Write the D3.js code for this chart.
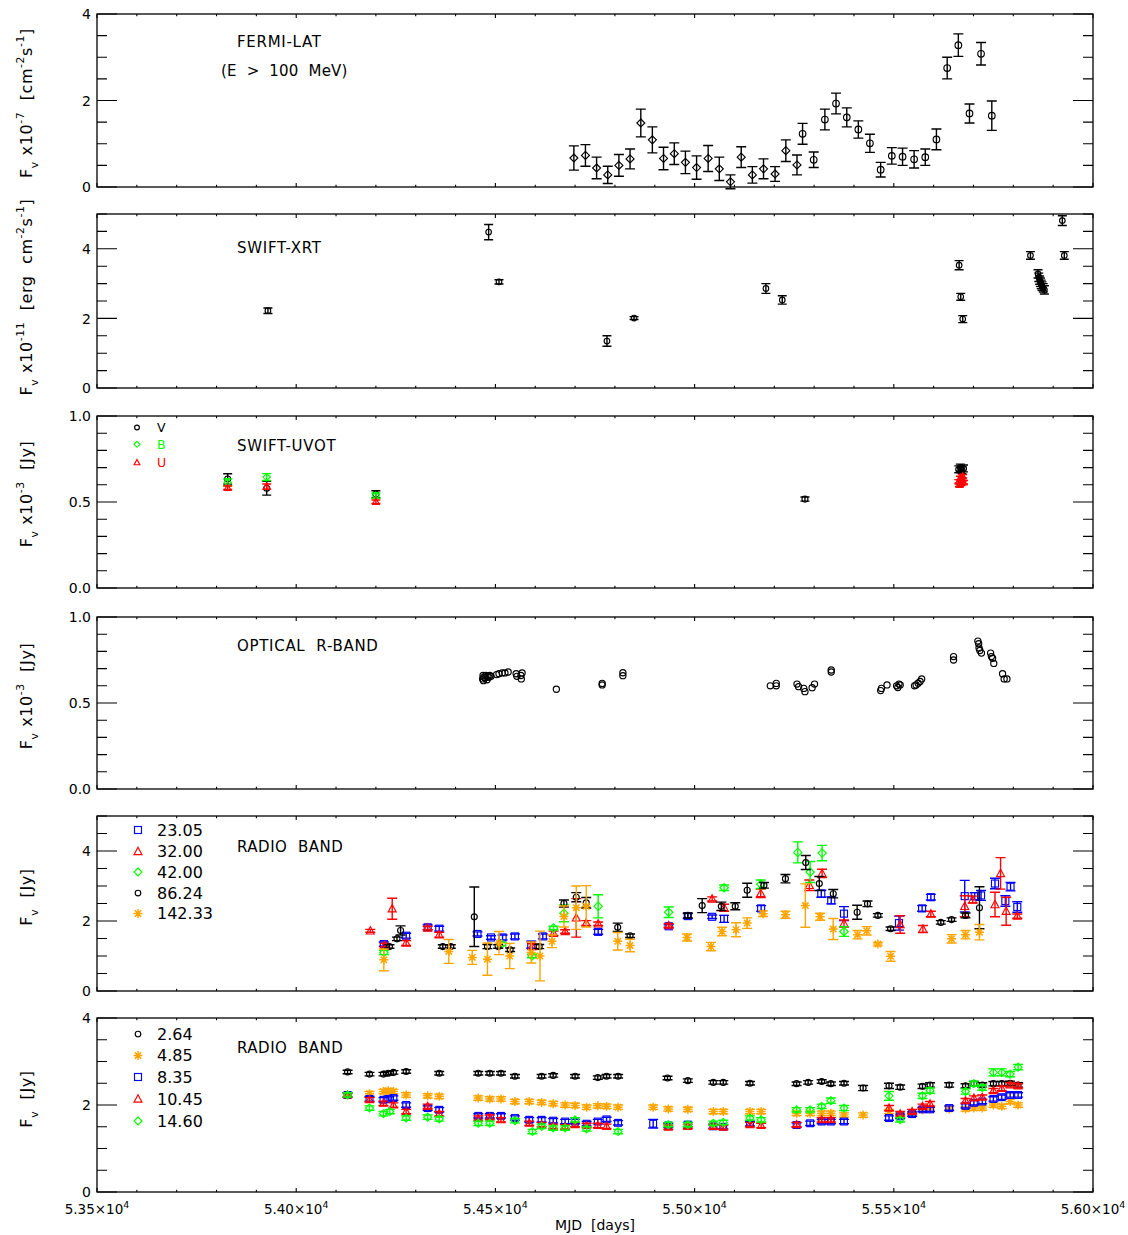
<!DOCTYPE html>
<html><head><meta charset="utf-8">
<script src="https://cdn.jsdelivr.net/npm/d3@7"></script>
<style>body{margin:0;background:#fff}svg{display:block}text{font-family:"DejaVu Sans",sans-serif}</style>
</head><body><svg id="c" width="1128" height="1235"></svg>
<script>
// ---------------- DATA ----------------  [MJD, value, error]
const fermiDiamonds = [[54697,0.67,0.28],[54726,0.73,0.25],[54754,0.44,0.25],[54782,0.28,0.20],[54810,0.50,0.25],[54838,0.65,0.23],[54865,1.48,0.32],[54894,1.09,0.30],[54922,0.66,0.26],[54949,0.77,0.25],[54977,0.57,0.26],[55005,0.45,0.27],[55034,0.66,0.30],[55062,0.42,0.27],[55090,0.12,0.16],[55117,0.69,0.24],[55145,0.28,0.19],[55173,0.42,0.23],[55202,0.30,0.17],[55229,0.84,0.25],[55257,0.51,0.23]];
const fermiCircles = [[55271,1.23,0.24],[55299,0.63,0.18],[55327,1.56,0.24],[55355,1.93,0.24],[55382,1.61,0.22],[55411,1.33,0.20],[55440,1.01,0.21],[55467,0.40,0.17],[55495,0.72,0.19],[55522,0.70,0.20],[55551,0.64,0.20],[55579,0.69,0.19],[55607,1.10,0.24],[55634,2.75,0.25],[55662,3.28,0.26],[55690,1.70,0.22],[55719,3.08,0.26],[55746,1.65,0.34]];
const xrt = [[53929,2.22,0.08],[54483,4.48,0.22],[54509,3.05,0.06],[54780,1.35,0.15],[54848,2.01,0.04],[55179,2.86,0.14],[55220,2.53,0.12],[55664,3.53,0.13],[55668,2.62,0.10],[55673,1.98,0.10],[55843,3.81,0.11],[55862,3.28,0.12],[55864,3.18,0.12],[55866,3.10,0.12],[55868,3.04,0.12],[55870,2.98,0.12],[55872,2.93,0.12],[55875,2.88,0.12],[55878,2.82,0.12],[55923,4.81,0.14],[55928,3.81,0.11]];
const uvotV = [[53828,0.634,0.03],[53926,0.58,0.04],[54200,0.545,0.02],[55277,0.517,0.012],[55663,0.69,0.02],[55667,0.70,0.02],[55671,0.685,0.02],[55675,0.695,0.02]];
const uvotB = [[53828,0.614,0.02],[53926,0.645,0.02],[54200,0.537,0.015]];
const uvotU = [[53828,0.583,0.01],[53926,0.59,0.015],[54200,0.502,0.01],[55663,0.62,0.01],[55665,0.60,0.01],[55667,0.64,0.01],[55669,0.61,0.01],[55671,0.63,0.01],[55673,0.65,0.01],[55675,0.615,0.01]];
const rband = [[54468,0.64],[54469,0.66],[54470,0.63],[54471,0.65],[54474,0.645],[54476,0.66],[54479,0.635],[54481,0.655],[54484,0.65],[54486,0.66],[54489,0.655],[54503,0.665],[54509,0.67],[54517,0.675],[54524,0.675],[54532,0.68],[54552,0.67],[54554,0.655],[54564,0.66],[54565,0.64],[54567,0.675],[54653,0.58],[54768,0.614],[54768,0.605],[54820,0.676],[54820,0.659],[55190,0.60],[55205,0.614],[55205,0.60],[55257,0.61],[55261,0.595],[55274,0.585],[55277,0.566],[55295,0.589],[55301,0.61],[55343,0.692],[55343,0.68],[55467,0.572],[55469,0.585],[55483,0.605],[55507,0.60],[55510,0.59],[55513,0.61],[55516,0.605],[55552,0.60],[55556,0.605],[55561,0.615],[55566,0.625],[55570,0.64],[55650,0.75],[55650,0.77],[55711,0.86],[55713,0.845],[55714,0.82],[55716,0.805],[55720,0.79],[55743,0.79],[55745,0.77],[55748,0.76],[55751,0.73],[55773,0.67],[55777,0.64],[55784,0.64]];
// radio, upper panel (GHz)
const radio2305 = [[54220,1.34,0.06],[54276,1.58,0.07],[54330,1.82,0.07],[54359,1.78,0.07],[54455,1.63,0.06],[54489,1.53,0.05],[54518,1.53,0.07],[54549,1.56,0.07],[54590,1.32,0.10],[54619,1.56,0.07],[54758,1.69,0.07],[54935,1.85,0.05],[54983,2.14,0.07],[55044,2.12,0.05],[55074,2.06,0.10],[55167,2.36,0.08],[55318,2.78,0.10],[55343,2.59,0.10],[55375,2.21,0.20],[55513,1.94,0.20],[55571,2.36,0.08],[55593,2.68,0.08],[55678,2.71,0.45],[55703,2.71,0.10],[55719,2.73,0.14],[55754,3.07,0.15],[55780,2.57,0.15],[55793,2.98,0.12],[55810,2.40,0.15]];
const radio3200 = [[54186,1.72,0.04],[54222,1.31,0.05],[54241,2.35,0.30],[54276,1.37,0.07],[54330,1.80,0.05],[54359,1.61,0.07],[54592,1.27,0.08],[54646,1.65,0.06],[54675,1.70,0.05],[54703,2.09,0.55],[54728,1.94,0.07],[54758,1.92,0.05],[54935,1.87,0.05],[55044,2.63,0.06],[55074,2.38,0.10],[55166,2.79,0.12],[55288,3.02,0.15],[55320,3.36,0.12],[55375,1.93,0.10],[55516,1.90,0.25],[55573,1.77,0.10],[55593,2.20,0.08],[55678,2.42,0.30],[55698,2.61,0.10],[55754,2.47,0.35],[55768,3.36,0.45],[55782,2.28,0.40],[55810,2.14,0.06]];
const radio4200 = [[54220,1.10,0.06],[54516,1.34,0.05],[54592,1.00,0.05],[54646,1.80,0.05],[54672,2.22,0.24],[54758,2.42,0.33],[54935,2.25,0.15],[55074,2.95,0.08],[55166,3.05,0.12],[55259,3.96,0.30],[55290,3.40,0.30],[55320,3.94,0.22],[55375,1.70,0.14]];
const radio8624 = [[54234,1.27,0.05],[54253,1.49,0.05],[54262,1.73,0.13],[54368,1.27,0.05],[54388,1.27,0.05],[54447,2.12,0.85],[54480,1.27,0.06],[54507,1.27,0.05],[54537,1.18,0.05],[54610,1.27,0.06],[54672,2.50,0.10],[54703,2.68,0.13],[54728,2.52,0.15],[54807,1.82,0.12],[54838,1.58,0.05],[54983,2.16,0.07],[55019,2.44,0.20],[55067,2.42,0.12],[55102,2.42,0.10],[55132,2.88,0.20],[55174,3.02,0.08],[55228,3.21,0.12],[55279,3.67,0.20],[55313,3.07,0.20],[55348,2.78,0.12],[55408,2.25,0.20],[55434,2.49,0.08],[55460,2.16,0.05],[55492,1.78,0.05],[55618,1.96,0.05],[55645,2.04,0.05],[55680,2.16,0.07],[55715,2.38,0.60]];
const radio14233 = [[54220,0.89,0.31],[54383,1.13,0.34],[54442,0.96,0.20],[54480,0.91,0.46],[54509,1.37,0.33],[54536,1.00,0.36],[54590,1.10,0.30],[54612,1.00,0.71],[54642,1.42,0.18],[54672,2.13,0.30],[54703,2.38,0.62],[54728,2.42,0.59],[54807,1.42,0.25],[54838,1.30,0.18],[54981,1.53,0.10],[55041,1.27,0.12],[55069,1.70,0.12],[55104,1.75,0.20],[55132,1.94,0.15],[55172,2.21,0.08],[55228,2.18,0.10],[55278,2.44,0.62],[55315,2.12,0.10],[55348,1.77,0.30],[55409,1.61,0.12],[55432,1.72,0.12],[55460,1.34,0.05],[55492,0.99,0.14],[55645,1.49,0.12],[55680,1.61,0.12],[55715,1.68,0.22]];
// radio, lower panel (GHz)
const radio264 = [[54129,2.76,0.04],[54184,2.71,0.04],[54219,2.71,0.04],[54231,2.73,0.04],[54244,2.75,0.04],[54276,2.77,0.04],[54359,2.73,0.04],[54457,2.73,0.04],[54486,2.73,0.04],[54514,2.73,0.04],[54549,2.66,0.04],[54616,2.66,0.04],[54645,2.68,0.04],[54700,2.66,0.04],[54757,2.63,0.04],[54779,2.66,0.04],[54808,2.66,0.04],[54932,2.62,0.04],[54983,2.56,0.04],[55047,2.52,0.04],[55072,2.52,0.04],[55139,2.50,0.04],[55256,2.49,0.04],[55285,2.52,0.04],[55319,2.54,0.04],[55342,2.49,0.04],[55375,2.50,0.04],[55423,2.39,0.06],[55488,2.44,0.06],[55516,2.41,0.05],[55572,2.43,0.05],[55591,2.46,0.05],[55639,2.46,0.05],[55680,2.44,0.05],[55701,2.49,0.05],[55722,2.46,0.05],[55750,2.49,0.05],[55771,2.49,0.05],[55792,2.50,0.05],[55812,2.46,0.05]];
const radio485 = [[54129,2.23,0.05],[54184,2.26,0.05],[54219,2.31,0.05],[54231,2.33,0.05],[54244,2.31,0.05],[54276,2.23,0.05],[54330,2.21,0.05],[54359,2.20,0.05],[54457,2.16,0.05],[54486,2.14,0.05],[54514,2.14,0.05],[54549,2.08,0.05],[54585,2.08,0.05],[54616,2.06,0.05],[54645,2.03,0.05],[54675,2.00,0.05],[54700,1.99,0.05],[54729,1.95,0.05],[54757,1.98,0.05],[54779,1.97,0.05],[54808,1.95,0.05],[54896,1.95,0.05],[54934,1.91,0.05],[54983,1.90,0.05],[55047,1.85,0.05],[55072,1.85,0.05],[55139,1.85,0.05],[55167,1.85,0.05],[55256,1.81,0.05],[55290,1.81,0.05],[55319,1.81,0.05],[55342,1.81,0.05],[55375,1.77,0.05],[55423,1.77,0.05],[55488,1.85,0.05],[55516,1.77,0.05],[55546,1.81,0.05],[55572,1.89,0.05],[55591,1.91,0.05],[55639,1.91,0.05],[55680,1.91,0.05],[55701,1.93,0.05],[55722,1.93,0.05],[55750,2.00,0.05],[55771,1.97,0.05],[55792,2.08,0.05],[55812,2.00,0.05]];
const radio835 = [[54129,2.23,0.05],[54184,2.14,0.05],[54219,2.12,0.05],[54231,2.14,0.05],[54244,2.16,0.05],[54276,2.00,0.05],[54330,1.93,0.05],[54359,1.89,0.05],[54457,1.75,0.05],[54486,1.75,0.05],[54514,1.75,0.05],[54549,1.70,0.05],[54585,1.66,0.05],[54616,1.66,0.05],[54645,1.64,0.05],[54675,1.62,0.05],[54700,1.62,0.05],[54729,1.57,0.05],[54757,1.62,0.05],[54779,1.67,0.05],[54808,1.59,0.05],[54896,1.57,0.10],[54934,1.53,0.05],[54983,1.55,0.05],[55047,1.51,0.05],[55072,1.50,0.05],[55139,1.57,0.05],[55256,1.54,0.05],[55290,1.58,0.05],[55319,1.62,0.05],[55342,1.62,0.05],[55375,1.62,0.05],[55488,1.70,0.05],[55516,1.74,0.05],[55546,1.79,0.05],[55572,1.90,0.05],[55591,1.90,0.05],[55639,1.93,0.05],[55680,1.98,0.05],[55701,2.05,0.05],[55722,2.08,0.05],[55750,2.14,0.05],[55771,2.18,0.05],[55792,2.23,0.05],[55812,2.23,0.05]];
const radio1045 = [[54129,2.23,0.05],[54184,2.12,0.05],[54219,2.04,0.05],[54244,2.00,0.05],[54276,1.85,0.05],[54330,1.97,0.05],[54359,1.80,0.05],[54457,1.70,0.05],[54486,1.72,0.05],[54514,1.66,0.05],[54585,1.58,0.05],[54616,1.55,0.05],[54645,1.51,0.05],[54675,1.50,0.05],[54700,1.55,0.05],[54729,1.53,0.05],[54757,1.53,0.05],[54779,1.51,0.05],[54934,1.49,0.05],[54983,1.51,0.05],[55047,1.51,0.05],[55072,1.49,0.05],[55139,1.55,0.05],[55167,1.53,0.05],[55256,1.55,0.05],[55319,1.66,0.05],[55342,1.66,0.05],[55488,1.93,0.06],[55516,1.80,0.05],[55546,1.85,0.05],[55572,1.97,0.05],[55591,2.03,0.05],[55680,2.10,0.05],[55701,2.16,0.05],[55722,2.18,0.05],[55750,2.33,0.05],[55771,2.38,0.05],[55792,2.46,0.05],[55812,2.44,0.05]];
const radio1460 = [[54129,2.23,0.05],[54184,1.93,0.05],[54219,1.80,0.05],[54235,1.85,0.05],[54276,1.70,0.05],[54330,1.72,0.05],[54359,1.68,0.05],[54457,1.58,0.05],[54486,1.58,0.05],[54549,1.64,0.05],[54593,1.39,0.05],[54616,1.51,0.05],[54645,1.47,0.05],[54675,1.47,0.05],[54700,1.66,0.05],[54729,1.45,0.05],[54808,1.39,0.05],[54934,1.55,0.05],[54983,1.55,0.05],[55047,1.58,0.05],[55072,1.60,0.05],[55139,1.70,0.05],[55167,1.66,0.05],[55256,1.89,0.05],[55290,1.89,0.05],[55319,1.97,0.05],[55342,2.10,0.06],[55375,1.93,0.06],[55488,2.21,0.10],[55516,1.66,0.05],[55572,2.21,0.06],[55591,2.33,0.06],[55680,2.31,0.06],[55701,2.49,0.06],[55722,2.40,0.06],[55750,2.75,0.08],[55771,2.75,0.08],[55792,2.71,0.06],[55812,2.87,0.06]];

const xMajorTicks = [53500,54000,54500,55000,55500,56000];
const xTickMantissa = ["5.35","5.40","5.45","5.50","5.55","5.60"];
const legendUVOT = ["V","B","U"];
const legendRadioHigh = ["23.05","32.00","42.00","86.24","142.33"];
const legendRadioLow = ["2.64","4.85","8.35","10.45","14.60"];

// ---------------- LAYOUT ----------------
const X0 = 97, X1 = 1093;
const svg = d3.select("#c");
svg.append("rect").attr("width",1128).attr("height",1235).attr("fill","#fff");
const xs = d3.scaleLinear().domain([53500,56000]).range([X0,X1]);
const COL = {k:"#000000", g:"#00ff00", r:"#ff0000", b:"#0000ff", o:"#ffa500"};

const panels = [
  {top:14, bottom:187, ymax:4, major:2, minor:0.5, fmt:d3.format("d"), lc:103,
   ylab:[["F"],["v","sub"],[" x10"],["-7","sup"],["  [cm"],["-2","sup"],["s"],["-1","sup"],["]"]]},
  {top:214, bottom:388, ymax:5, major:2, minor:0.5, fmt:d3.format("d"), lc:297,
   ylab:[["F"],["v","sub"],[" x10"],["-11","sup"],["  [erg  cm"],["-2","sup"],["s"],["-1","sup"],["]"]]},
  {top:416, bottom:588, ymax:1, major:0.5, minor:0.1, fmt:d3.format(".1f"), lc:494,
   ylab:[["F"],["v","sub"],[" x10"],["-3","sup"],["  [Jy]"]]},
  {top:617, bottom:789, ymax:1, major:0.5, minor:0.1, fmt:d3.format(".1f"), lc:696,
   ylab:[["F"],["v","sub"],[" x10"],["-3","sup"],["  [Jy]"]]},
  {top:816, bottom:991, ymax:5, major:2, minor:0.5, fmt:d3.format("d"), lc:897,
   ylab:[["F"],["v","sub"],["  [Jy]"]]},
  {top:1018, bottom:1192, ymax:4, major:2, minor:0.5, fmt:d3.format("d"), lc:1099,
   ylab:[["F"],["v","sub"],["  [Jy]"]]}
];

function rich(t, segs, size){
  let cur = 0;
  segs.forEach(([s,kind])=>{
    const shift = kind==="sub" ? size*0.38 : kind==="sup" ? -size*0.5 : 0;
    const ts = t.append("tspan").attr("dy", shift-cur).text(s);
    if (kind) ts.attr("font-size", size*0.68);
    cur = shift;
  });
}

panels.forEach((p,i)=>{
  const g = svg.append("g");
  const ys = d3.scaleLinear().domain([0,p.ymax]).range([p.bottom,p.top]);
  p.ys = ys; p.g = g;
  const eps = 1e-9;
  const yMaj = d3.range(0, p.ymax+eps, p.major);
  const yMin = d3.range(0, p.ymax+eps, p.minor).filter(v=>Math.abs(v/p.major-Math.round(v/p.major))>1e-6);
  const xMin = d3.range(53500, 56001, 100).filter(v=>v%500!==0);
  let d = "";
  yMaj.forEach(v=>{const y=ys(v); d+=`M${X0},${y}h20M${X1},${y}h-20`;});
  yMin.forEach(v=>{const y=ys(v); d+=`M${X0},${y}h10M${X1},${y}h-10`;});
  xMajorTicks.forEach(v=>{const x=xs(v); d+=`M${x},${p.bottom}v-4M${x},${p.top}v4`;});
  xMin.forEach(v=>{const x=xs(v); d+=`M${x},${p.bottom}v-2.2M${x},${p.top}v2.2`;});
  g.append("path").attr("d",d).attr("stroke","#000").attr("stroke-width",1.1).attr("fill","none");
  g.append("rect").attr("x",X0).attr("y",p.top).attr("width",X1-X0).attr("height",p.bottom-p.top)
    .attr("fill","none").attr("stroke","#000").attr("stroke-width",1.3);
  yMaj.forEach(v=>{
    g.append("text").attr("x",91).attr("y",ys(v)+5.2).attr("text-anchor","end")
      .attr("font-size",14).text(p.fmt(v));
  });
  const yl = g.append("text").attr("transform",`translate(32,${p.lc}) rotate(-90)`)
    .attr("text-anchor","middle").attr("font-size",16).attr("letter-spacing",0.6)
    .attr("xml:space","preserve").style("white-space","pre");
  rich(yl, p.ylab, 16);
});

// x-axis labels (bottom panel)
xMajorTicks.forEach((v,i)=>{
  const t = svg.append("text").attr("x",xs(v)).attr("y",1214).attr("text-anchor","middle").attr("font-size",13.5);
  t.append("tspan").text(xTickMantissa[i]+"×10");
  t.append("tspan").attr("dy",-6).attr("font-size",9.5).text("4");
});
svg.append("text").attr("x",595).attr("y",1230).attr("text-anchor","middle").attr("font-size",14)
  .attr("xml:space","preserve").style("white-space","pre").text("MJD  [days]");

// ---------------- MARKS ----------------
function sym(g, type, x, y, s, color){
  let el;
  if (type==="circle") el = g.append("circle").attr("cx",x).attr("cy",y).attr("r",s);
  else if (type==="diamond") el = g.append("path").attr("d",`M${x},${y-s}L${x+s},${y}L${x},${y+s}L${x-s},${y}Z`);
  else if (type==="square") el = g.append("rect").attr("x",x-s).attr("y",y-s).attr("width",2*s).attr("height",2*s);
  else if (type==="triangle") el = g.append("path").attr("d",`M${x},${y-s}L${x+s*0.95},${y+s*0.75}L${x-s*0.95},${y+s*0.75}Z`);
  else if (type==="star"){
    const a=s, b=s*0.71;
    el = g.append("path").attr("d",`M${x-a},${y}h${2*a}M${x},${y-a}v${2*a}M${x-b},${y-b}l${2*b},${2*b}M${x-b},${y+b}l${2*b},${-2*b}`);
  }
  el.attr("stroke",color).attr("stroke-width", type==="star" ? 1.5 : 1.15).attr("fill","none");
}
function series(pi, data, type, size, color, cap){
  const p = panels[pi], g = p.g.append("g"), ys = p.ys;
  data.forEach(d=>{
    const x = xs(d[0]), y = ys(d[1]);
    if (d.length>2 && d[2]>0){
      const y1 = ys(d[1]+d[2]), y2 = ys(Math.max(d[1]-d[2], 0-0.02*p.ymax));
      g.append("path").attr("d",`M${x-cap},${y1}h${2*cap}M${x},${y1}V${y2}M${x-cap},${y2}h${2*cap}`)
        .attr("stroke",color).attr("stroke-width",1.4).attr("fill","none");
    }
    sym(g, type, x, y, size, color);
  });
}

// Panel 1 FERMI
series(0, fermiDiamonds, "diamond", 4, COL.k, 5);
series(0, fermiCircles, "circle", 3.3, COL.k, 5);
// Panel 2 XRT
series(1, xrt, "circle", 2.8, COL.k, 4.5);
// Panel 3 UVOT
series(2, uvotV, "circle", 3, COL.k, 4.5);
series(2, uvotB, "diamond", 3.6, COL.g, 4.5);
series(2, uvotU, "triangle", 3.6, COL.r, 4.5);
// Panel 4 R-band
series(3, rband, "circle", 3.1, COL.k, 0);
// Panel 5 radio
series(4, radio2305, "square", 3.5, COL.b, 5);
series(4, radio3200, "triangle", 4.2, COL.r, 5);
series(4, radio4200, "diamond", 4.2, COL.g, 5);
series(4, radio8624, "circle", 3, COL.k, 5);
series(4, radio14233, "star", 4.5, COL.o, 5);
// Panel 6 radio
series(5, radio264, "circle", 3, COL.k, 5);
series(5, radio485, "star", 4.5, COL.o, 5);
series(5, radio835, "square", 3.4, COL.b, 5);
series(5, radio1045, "triangle", 4, COL.r, 5);
series(5, radio1460, "diamond", 4, COL.g, 5);

// ---------------- ANNOTATIONS ----------------
function note(x, y, txt, ls){
  svg.append("text").attr("x",x).attr("y",y).attr("font-size",15).attr("letter-spacing",ls)
    .attr("xml:space","preserve").style("white-space","pre").text(txt);
}
note(237, 46.5, "FERMI-LAT", 0.7);
note(221, 75.5, "(E  >  100  MeV)", 0.2);
note(237, 253, "SWIFT-XRT", 0.7);
note(237, 451, "SWIFT-UVOT", 0.7);
note(237, 651, "OPTICAL  R-BAND", 0.7);
note(237, 851.5, "RADIO  BAND", 0.5);
note(237, 1052.5, "RADIO  BAND", 0.5);

// legends
const lg = svg.append("g");
const uvSyms = [["circle",2.4,COL.k,427.5],["diamond",3,COL.g,444.3],["triangle",3,COL.r,462.5]];
legendUVOT.forEach((t,i)=>{
  const [ty,s,c,y] = uvSyms[i];
  sym(lg, ty, 137, y, s, c);
  lg.append("text").attr("x",157).attr("y",y+4.5).attr("font-size",12.5).attr("fill",c).text(t);
});
const hiSyms = [["square",3.5,COL.b],["triangle",4.2,COL.r],["diamond",4,COL.g],["circle",2.8,COL.k],["star",4.5,COL.o]];
const hiY = [830, 851.5, 872, 893, 913.5];
legendRadioHigh.forEach((t,i)=>{
  const [ty,s,c] = hiSyms[i];
  sym(lg, ty, 138, hiY[i], s, c);
  lg.append("text").attr("x",157).attr("y",hiY[i]+5.6).attr("font-size",16).text(t);
});
const loSyms = [["circle",2.8,COL.k],["star",4.5,COL.o],["square",3.5,COL.b],["triangle",4.2,COL.r],["diamond",4,COL.g]];
const loY = [1034, 1055.5, 1077, 1099, 1121];
legendRadioLow.forEach((t,i)=>{
  const [ty,s,c] = loSyms[i];
  sym(lg, ty, 138, loY[i], s, c);
  lg.append("text").attr("x",157).attr("y",loY[i]+5.6).attr("font-size",16).text(t);
});
</script></body></html>
